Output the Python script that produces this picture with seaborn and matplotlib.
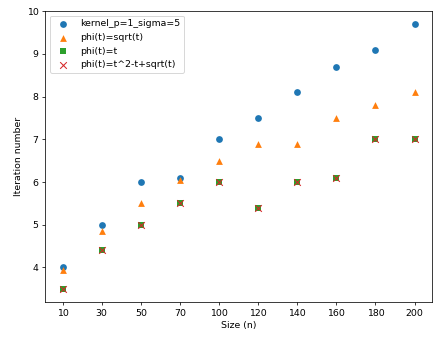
import pandas as pd
import seaborn as sns
import matplotlib.pyplot as plt

# data
sizes = ["10", "30", "50", "70", "100", "120", "140", "160", "180", "200"]
kernel_p1_s5 = [4.0, 5.0, 6.0, 6.1, 7.0, 7.5, 8.1, 8.7, 9.1, 9.7]
phi_sqrt = [3.95, 4.85, 5.5, 6.05, 6.5, 6.9, 6.9, 7.5, 7.8, 8.1]
phi_t = [3.5, 4.4, 5.0, 5.5, 6.0, 5.4, 6.0, 6.1, 7.0, 7.0]
phi_poly = [3.5, 4.4, 5.0, 5.5, 6.0, 5.4, 6.0, 6.1, 7.0, 7.0]

series = [
    ("kernel_p=1_sigma=5", kernel_p1_s5, "o", "#1f77b4"),
    ("phi(t)=sqrt(t)", phi_sqrt, "^", "#ff7f0e"),
    ("phi(t)=t", phi_t, "s", "#2ca02c"),
    ("phi(t)=t^2-t+sqrt(t)", phi_poly, "x", "#d62728"),
]

dpi = 67.7
fig = plt.figure(figsize=(433 / dpi, 339 / dpi), dpi=dpi)
ax = fig.add_axes([0.104, 0.109, 0.894, 0.859])

for name, vals, mk, col in series:
    df = pd.DataFrame({"size": sizes, "iters": vals})
    if mk == "x":
        sns.scatterplot(data=df, x="size", y="iters", marker=mk, color=col,
                        s=50, linewidth=1.1, label=name, ax=ax)
    else:
        sns.scatterplot(data=df, x="size", y="iters", marker=mk, color=col,
                        s=52, linewidth=0, label=name, ax=ax)

ax.set_xlabel("Size (n)")
ax.set_ylabel("Iteration number")
ax.legend(loc="upper left")

fig.savefig("out.png", dpi=dpi)
